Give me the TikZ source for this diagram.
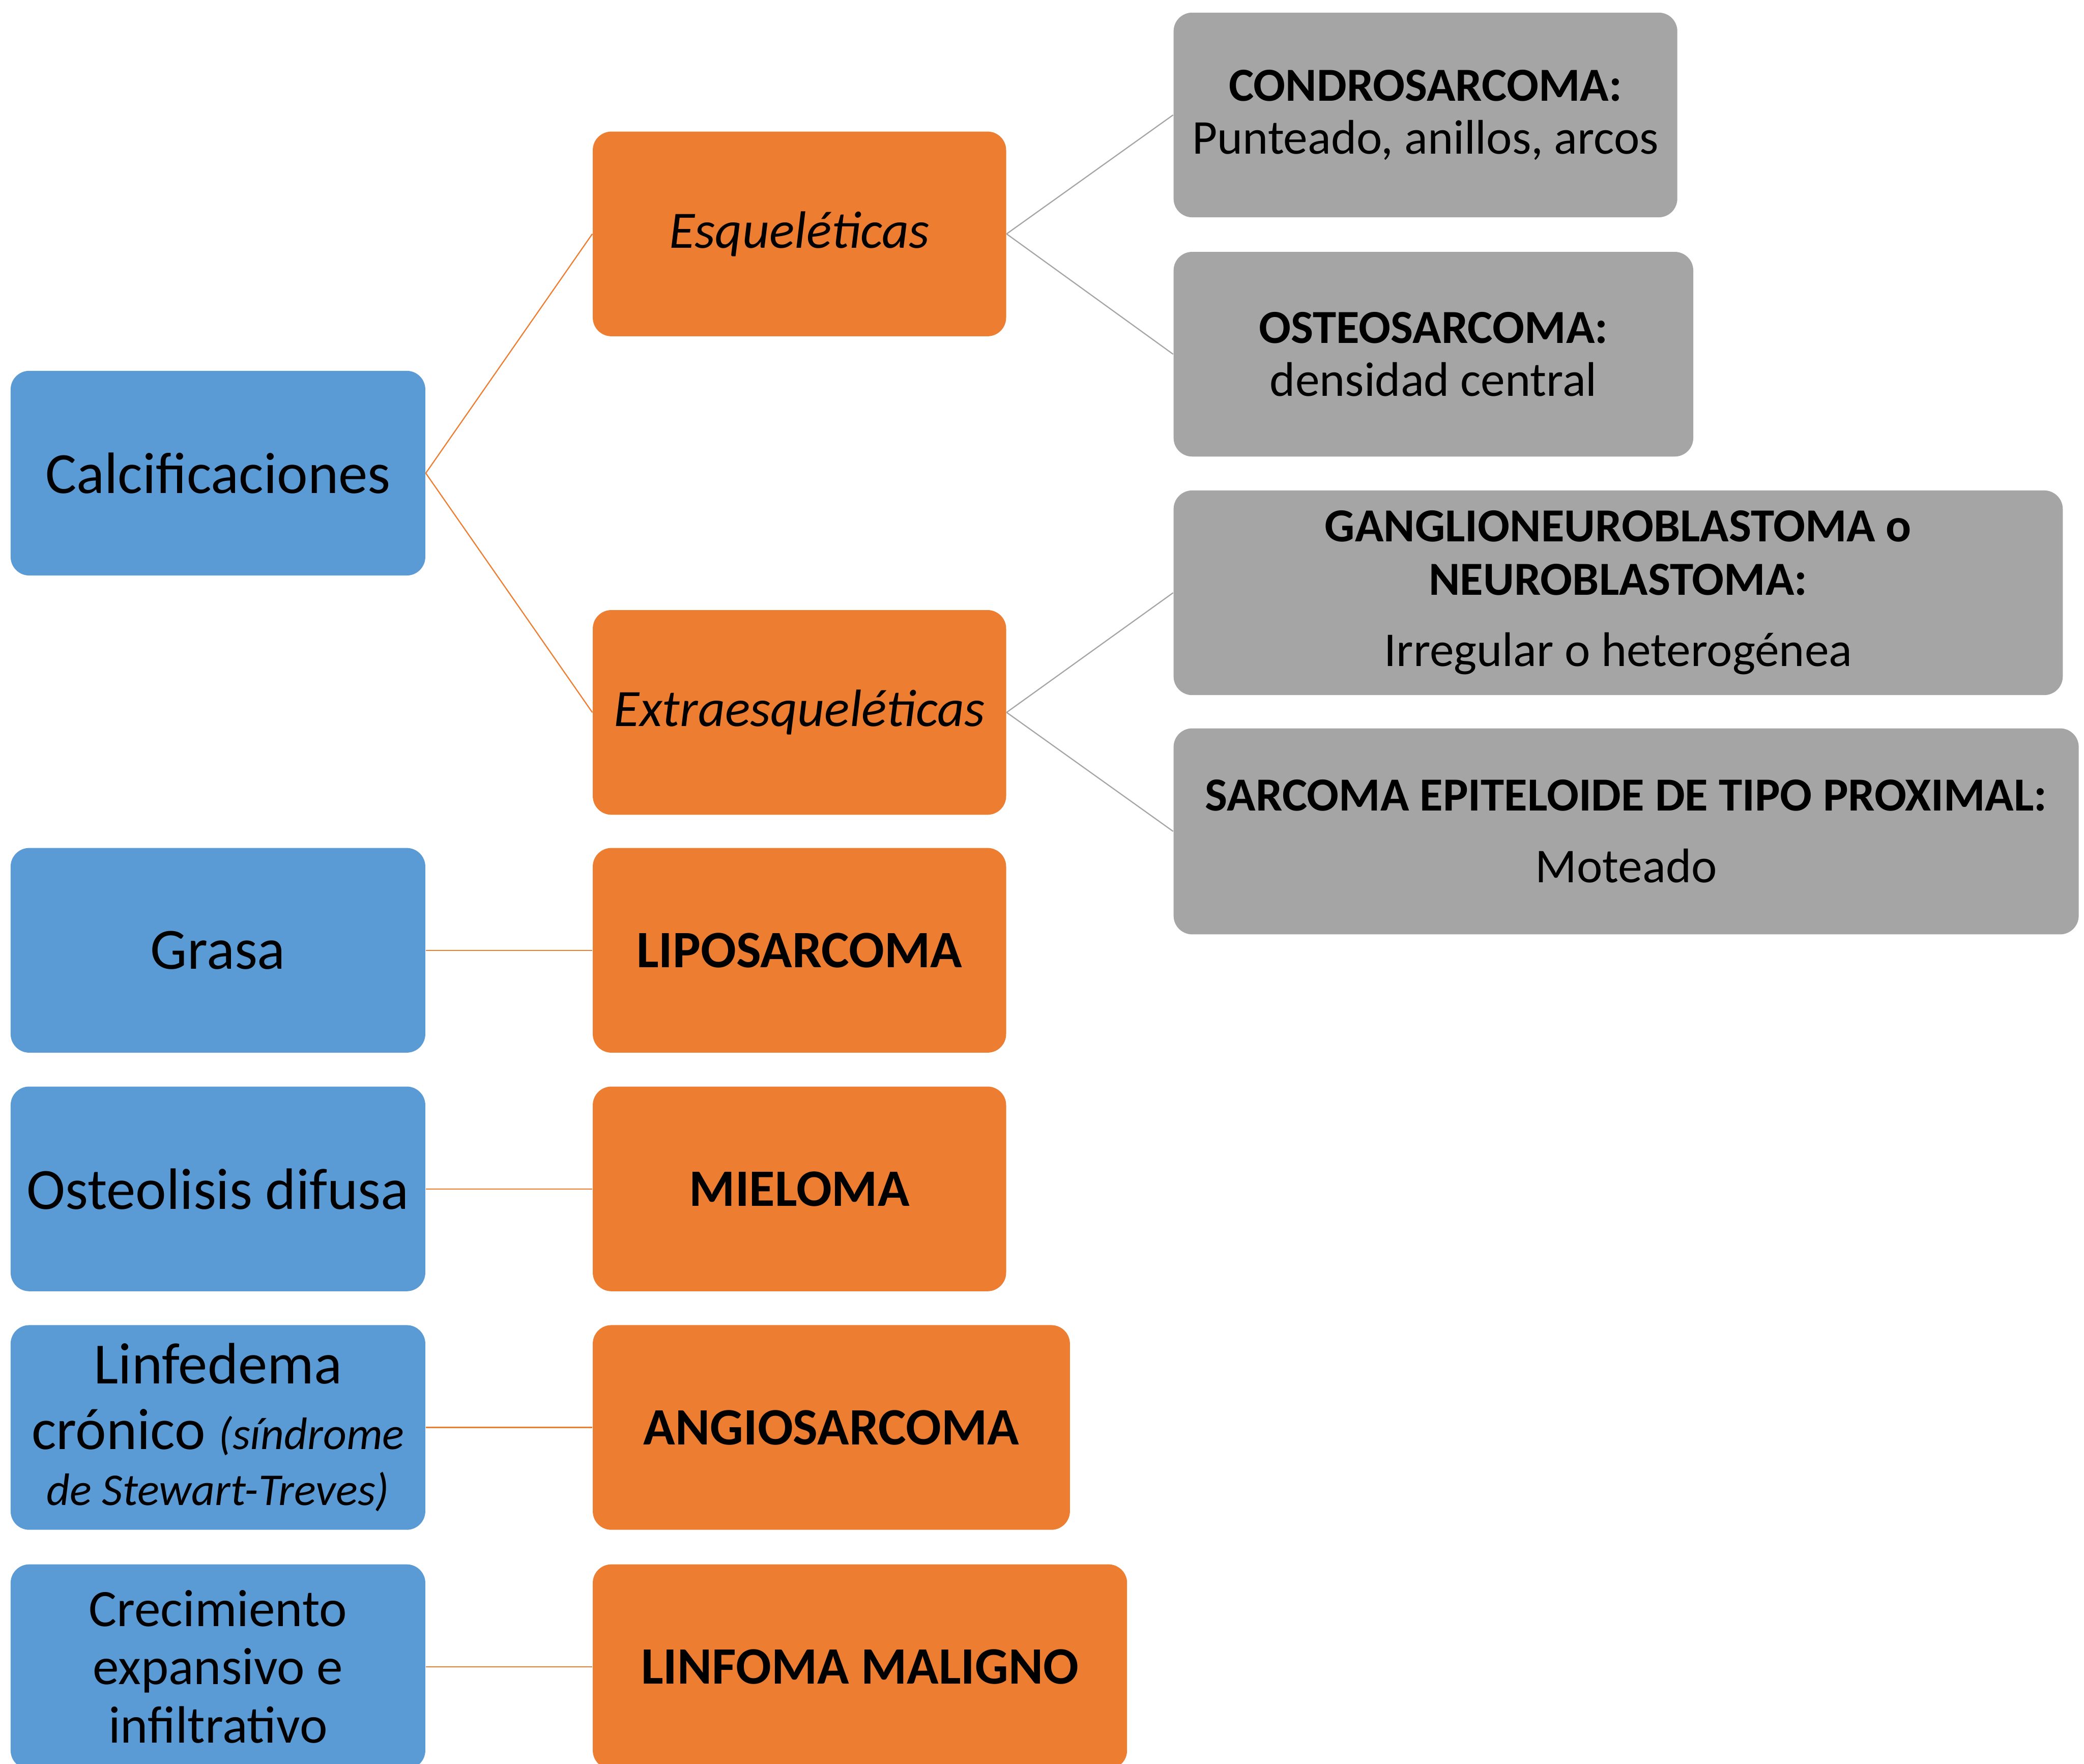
\documentclass[tikz,border=0pt]{standalone}
\usepackage{fontspec}
\setmainfont{Carlito}
\definecolor{calblue}{HTML}{5B9BD5}
\definecolor{calorange}{HTML}{ED7D31}
\definecolor{calgray}{HTML}{A5A5A5}
\newcommand{\grayhead}[1]{{\fontsize{20.3}{22.7}\selectfont\bfseries #1}}
\begin{document}
\begin{tikzpicture}[
	bluebox/.style={rectangle, rounded corners=0.28cm, fill=calblue, draw=none, inner sep=0pt, align=center, minimum width=6.24cm, minimum height=3.08cm, font=\fontsize{25}{28}\selectfont},
	orangebox/.style={rectangle, rounded corners=0.28cm, fill=calorange, draw=none, inner sep=0pt, align=center, minimum width=6.22cm, minimum height=3.08cm, font=\fontsize{22.5}{25}\selectfont},
	graybox/.style={rectangle, rounded corners=0.28cm, fill=calgray, draw=none, inner sep=0pt, align=center, minimum height=3.08cm, font=\fontsize{20.8}{22.7}\selectfont},
	orangeline/.style={draw=calorange, line width=0.5pt},
	grayline/.style={draw=calgray, line width=0.5pt}
]
	\useasboundingbox (0,0) rectangle (31.36,-26.54);

	% Calcificaciones
	\node[bluebox] (calc) at (3.28,-7.12) {Calcificaciones};
	\node[orangebox] (esq) at (12.03,-3.52) {\itshape Esqueléticas};
	\node[orangebox] (extra) at (12.03,-10.72) {\itshape Extraesqueléticas};
	\draw[orangeline] (calc.east) -- (esq.west);
	\draw[orangeline] (calc.east) -- (extra.west);

	% Esqueleticas
	\node[graybox, minimum width=7.58cm] (condro) at (21.45,-1.73) {\grayhead{CONDROSARCOMA:}\\Punteado, anillos, arcos};
	\node[graybox, minimum width=7.82cm] (osteo) at (21.57,-5.33) {\grayhead{OSTEOSARCOMA:}\\densidad central};
	\draw[grayline] (esq.east) -- (condro.west);
	\draw[grayline] (esq.east) -- (osteo.west);

	% Extraesqueleticas
	\node[graybox, minimum width=13.38cm] (gang) at (24.35,-8.92) {\grayhead{GANGLIONEUROBLASTOMA o}\\\grayhead{NEUROBLASTOMA:}\\[8pt]Irregular o heterogénea};
	\node[graybox, minimum width=13.62cm, minimum height=3.10cm] (sarc) at (24.47,-12.51) {\grayhead{SARCOMA EPITELOIDE DE TIPO PROXIMAL:}\\[8pt]Moteado};
	\draw[grayline] (extra.east) -- (gang.west);
	\draw[grayline] (extra.east) -- (sarc.west);

	% Grasa
	\node[bluebox] (grasa) at (3.28,-14.30) {Grasa};
	\node[orangebox] (lipo) at (12.03,-14.30) {\bfseries LIPOSARCOMA};
	\draw[orangeline] (grasa) -- (lipo);

	% Osteolisis
	\node[bluebox] (osteol) at (3.28,-17.89) {Osteolisis difusa};
	\node[orangebox] (mieloma) at (12.03,-17.89) {\bfseries MIELOMA};
	\draw[orangeline] (osteol) -- (mieloma);

	% Linfedema
	\node[bluebox] (linf) at (3.28,-21.48) {Linfedema\\crónico {\fontsize{19.5}{22}\selectfont\itshape (síndrome}\\[-4pt]{\fontsize{19.5}{22}\selectfont\itshape de Stewart-Treves)}};
	\node[orangebox, minimum width=7.18cm] (angio) at (12.51,-21.48) {\bfseries ANGIOSARCOMA};
	\draw[orangeline] (linf) -- (angio);

	% Crecimiento
	\node[bluebox, font=\fontsize{22.5}{25}\selectfont] (crec) at (3.28,-25.08) {Crecimiento\\expansivo e\\infiltrativo};
	\node[orangebox, minimum width=8.04cm] (linfoma) at (12.94,-25.08) {\bfseries LINFOMA MALIGNO};
	\draw[orangeline] (crec) -- (linfoma);
\end{tikzpicture}
\end{document}
